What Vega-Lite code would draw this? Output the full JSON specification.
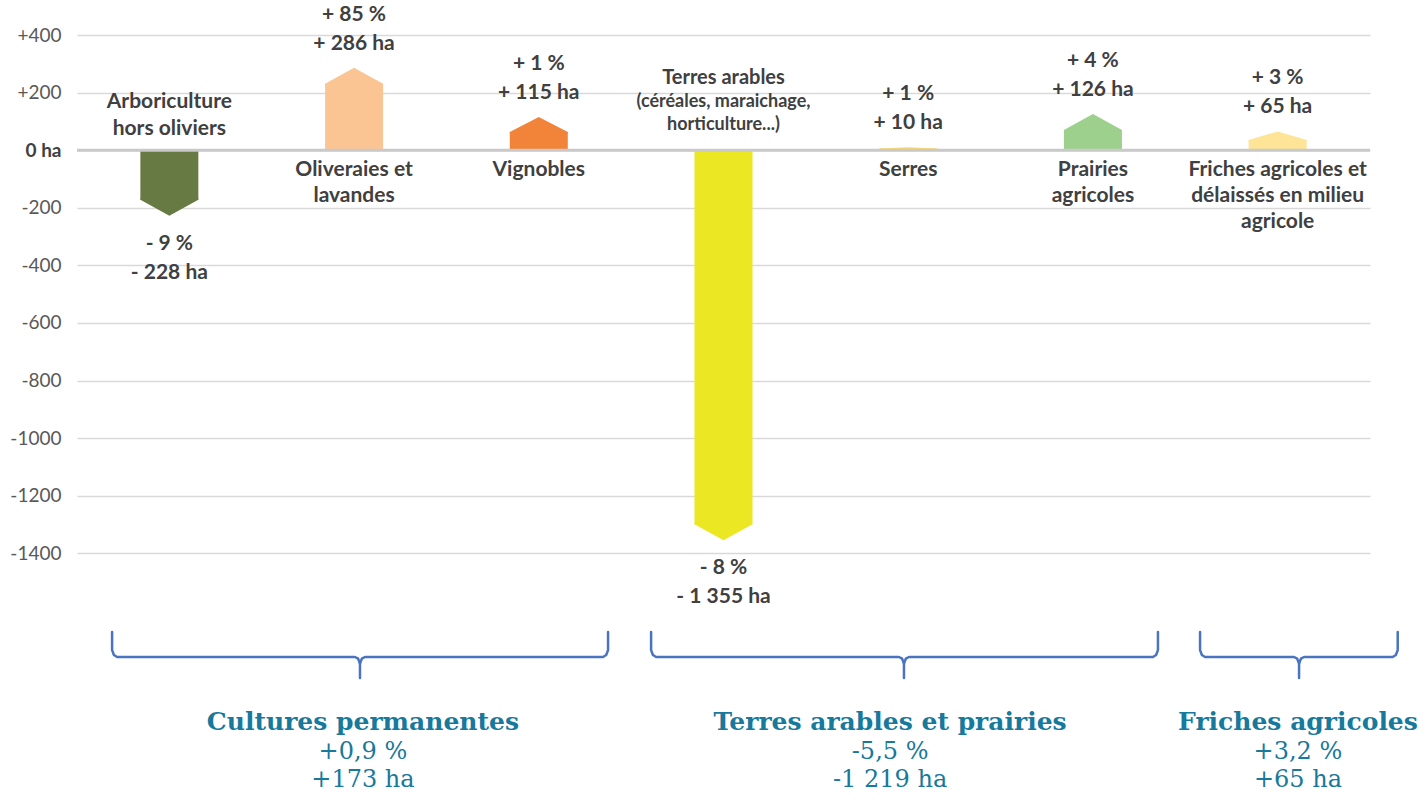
{
  "$schema": "https://vega.github.io/schema/vega-lite/v6.json",
  "width": 1293,
  "height": 770,
  "autosize": {"type": "none"},
  "padding": {"left": 77, "top": 35, "right": 58, "bottom": 0},
  "background": "white",
  "config": {"view": {"stroke": null}, "font": "Lato"},
  "datasets": {
    "cats": [
      {"cat": "Arboriculture hors oliviers", "value": -228, "label": ["Arboriculture", "hors oliviers"], "vlabel": ["- 9 %", "- 228 ha"]},
      {"cat": "Oliveraies et lavandes", "value": 286, "label": ["Oliveraies et", "lavandes"], "vlabel": ["+ 85 %", "+ 286 ha"]},
      {"cat": "Vignobles", "value": 115, "label": ["Vignobles"], "vlabel": ["+ 1 %", "+ 115 ha"]},
      {"cat": "Terres arables", "value": -1355, "label": ["Terres arables"], "sub": ["(céréales, maraichage,", "horticulture...)"], "vlabel": ["- 8 %", "- 1 355 ha"]},
      {"cat": "Serres", "value": 10, "label": ["Serres"], "vlabel": ["+ 1 %", "+ 10 ha"]},
      {"cat": "Prairies agricoles", "value": 126, "label": ["Prairies", "agricoles"], "vlabel": ["+ 4 %", "+ 126 ha"]},
      {"cat": "Friches agricoles et délaissés en milieu agricole", "value": 65, "label": ["Friches agricoles et", "délaissés en milieu", "agricole"], "vlabel": ["+ 3 %", "+ 65 ha"]}
    ],
    "braces": [
      {"seg": "A1", "o": 1, "x": 0.19, "y": -1673}, {"seg": "A1", "o": 2, "x": 0.19, "y": -1736}, {"seg": "A1", "o": 3, "x": 0.2, "y": -1753}, {"seg": "A1", "o": 4, "x": 0.217, "y": -1760}, {"seg": "A1", "o": 5, "x": 1.505, "y": -1760}, {"seg": "A1", "o": 6, "x": 1.522, "y": -1766}, {"seg": "A1", "o": 7, "x": 1.532, "y": -1783}, {"seg": "A1", "o": 8, "x": 1.532, "y": -1833},
      {"seg": "A2", "o": 1, "x": 2.875, "y": -1673}, {"seg": "A2", "o": 2, "x": 2.875, "y": -1736}, {"seg": "A2", "o": 3, "x": 2.865, "y": -1753}, {"seg": "A2", "o": 4, "x": 2.848, "y": -1760}, {"seg": "A2", "o": 5, "x": 1.559, "y": -1760}, {"seg": "A2", "o": 6, "x": 1.542, "y": -1766}, {"seg": "A2", "o": 7, "x": 1.532, "y": -1783},
      {"seg": "B1", "o": 1, "x": 3.108, "y": -1673}, {"seg": "B1", "o": 2, "x": 3.108, "y": -1736}, {"seg": "B1", "o": 3, "x": 3.118, "y": -1753}, {"seg": "B1", "o": 4, "x": 3.135, "y": -1760}, {"seg": "B1", "o": 5, "x": 4.45, "y": -1760}, {"seg": "B1", "o": 6, "x": 4.467, "y": -1766}, {"seg": "B1", "o": 7, "x": 4.477, "y": -1783}, {"seg": "B1", "o": 8, "x": 4.477, "y": -1833},
      {"seg": "B2", "o": 1, "x": 5.852, "y": -1673}, {"seg": "B2", "o": 2, "x": 5.852, "y": -1736}, {"seg": "B2", "o": 3, "x": 5.842, "y": -1753}, {"seg": "B2", "o": 4, "x": 5.825, "y": -1760}, {"seg": "B2", "o": 5, "x": 4.504, "y": -1760}, {"seg": "B2", "o": 6, "x": 4.487, "y": -1766}, {"seg": "B2", "o": 7, "x": 4.477, "y": -1783},
      {"seg": "C1", "o": 1, "x": 6.08, "y": -1673}, {"seg": "C1", "o": 2, "x": 6.08, "y": -1736}, {"seg": "C1", "o": 3, "x": 6.09, "y": -1753}, {"seg": "C1", "o": 4, "x": 6.107, "y": -1760}, {"seg": "C1", "o": 5, "x": 6.589, "y": -1760}, {"seg": "C1", "o": 6, "x": 6.606, "y": -1766}, {"seg": "C1", "o": 7, "x": 6.616, "y": -1783}, {"seg": "C1", "o": 8, "x": 6.616, "y": -1833},
      {"seg": "C2", "o": 1, "x": 7.15, "y": -1673}, {"seg": "C2", "o": 2, "x": 7.15, "y": -1736}, {"seg": "C2", "o": 3, "x": 7.14, "y": -1753}, {"seg": "C2", "o": 4, "x": 7.123, "y": -1760}, {"seg": "C2", "o": 5, "x": 6.643, "y": -1760}, {"seg": "C2", "o": 6, "x": 6.626, "y": -1766}, {"seg": "C2", "o": 7, "x": 6.616, "y": -1783}
    ],
    "groups": [
      {"x": 1.548, "title": "Cultures permanentes", "pct": "+0,9 %", "ha": "+173 ha"},
      {"x": 4.402, "title": "Terres arables et prairies", "pct": "-5,5 %", "ha": "-1 219 ha"},
      {"x": 6.61, "title": "Friches agricoles", "pct": "+3,2 %", "ha": "+65 ha"}
    ]
  },
  "layer": [
    {
      "data": {"name": "cats"},
      "encoding": {
        "x": {"field": "cat", "type": "nominal", "sort": null,
              "scale": {"domain": ["Arboriculture hors oliviers", "Oliveraies et lavandes", "Vignobles", "Terres arables", "Serres", "Prairies agricoles", "Friches agricoles et délaissés en milieu agricole"], "paddingInner": 0, "paddingOuter": 0},
              "axis": null}
      },
      "layer": [
        {
          "mark": {"type": "bar", "width": {"band": 0.314},
                   "yOffset": {"expr": "(datum.value > 0 ? 1 : -1) * min(16, 0.45 * abs(scale('y', datum.value) - scale('y', 0)))"}},
          "encoding": {
            "y": {"field": "value", "type": "quantitative",
                  "scale": {"domain": [-2274, 400], "nice": false, "zero": false},
                  "axis": {"values": [-1400, -1200, -1000, -800, -600, -400, -200, 0, 200, 400],
                           "domain": false, "ticks": false, "title": null, "labelPadding": 16,
                           "labelFontSize": 19, "labelFont": "Lato",
                           "labelColor": {"condition": {"test": "datum.value == 0", "value": "#404040"}, "value": "#595959"},
                           "labelFontWeight": {"condition": {"test": "datum.value == 0", "value": "bold"}, "value": "normal"},
                           "labelExpr": "datum.value > 0 ? '+' + datum.value : (datum.value == 0 ? '0 ha' : '' + datum.value)",
                           "gridColor": "#d9d9d9", "gridWidth": 1.3}},
            "y2": {"datum": 0},
            "color": {"field": "cat", "type": "nominal", "legend": null,
                      "scale": {"domain": ["Arboriculture hors oliviers", "Oliveraies et lavandes", "Vignobles", "Terres arables", "Serres", "Prairies agricoles", "Friches agricoles et délaissés en milieu agricole"],
                                "range": ["#687a44", "#fbc593", "#f18439", "#ebe823", "#fed766", "#9dcf8d", "#fde497"]}}
          }
        },
        {
          "mark": {"type": "point", "filled": true, "opacity": 1, "size": 3364, "strokeWidth": 0,
                   "shape": {"expr": "'M-1,' + ((datum.value > 0 ? 1 : -1) * (min(16, 0.45 * abs(scale('y', datum.value) - scale('y', 0))) / 29 + 0.05)) + 'L-1,' + ((datum.value > 0 ? 1 : -1) * (min(16, 0.45 * abs(scale('y', datum.value) - scale('y', 0))) / 29)) + 'L0,0L1,' + ((datum.value > 0 ? 1 : -1) * (min(16, 0.45 * abs(scale('y', datum.value) - scale('y', 0))) / 29)) + 'L1,' + ((datum.value > 0 ? 1 : -1) * (min(16, 0.45 * abs(scale('y', datum.value) - scale('y', 0))) / 29 + 0.05)) + 'Z'"}},
          "encoding": {
            "y": {"field": "value", "type": "quantitative",
                  "scale": {"domain": [-2274, 400], "nice": false, "zero": false},
                  "axis": {"values": [-1400, -1200, -1000, -800, -600, -400, -200, 0, 200, 400],
                           "domain": false, "ticks": false, "title": null, "labelPadding": 16,
                           "labelFontSize": 19, "labelFont": "Lato",
                           "labelColor": {"condition": {"test": "datum.value == 0", "value": "#404040"}, "value": "#595959"},
                           "labelFontWeight": {"condition": {"test": "datum.value == 0", "value": "bold"}, "value": "normal"},
                           "labelExpr": "datum.value > 0 ? '+' + datum.value : (datum.value == 0 ? '0 ha' : '' + datum.value)",
                           "gridColor": "#d9d9d9", "gridWidth": 1.3}},
            "color": {"field": "cat", "type": "nominal", "legend": null,
                      "scale": {"domain": ["Arboriculture hors oliviers", "Oliveraies et lavandes", "Vignobles", "Terres arables", "Serres", "Prairies agricoles", "Friches agricoles et délaissés en milieu agricole"],
                                "range": ["#687a44", "#fbc593", "#f18439", "#ebe823", "#fed766", "#9dcf8d", "#fde497"]}}
          }
        }
      ]
    },
    {
      "data": {"values": [{"zero": 0}]},
      "mark": {"type": "rule", "color": "#c9c9c9", "strokeWidth": 3},
      "encoding": {
        "y": {"field": "zero", "type": "quantitative",
              "scale": {"domain": [-2274, 400], "nice": false, "zero": false},
              "axis": {"values": [-1400, -1200, -1000, -800, -600, -400, -200, 0, 200, 400],
                       "domain": false, "ticks": false, "title": null, "labelPadding": 16,
                       "labelFontSize": 19, "labelFont": "Lato",
                       "labelColor": {"condition": {"test": "datum.value == 0", "value": "#404040"}, "value": "#595959"},
                       "labelFontWeight": {"condition": {"test": "datum.value == 0", "value": "bold"}, "value": "normal"},
                       "labelExpr": "datum.value > 0 ? '+' + datum.value : (datum.value == 0 ? '0 ha' : '' + datum.value)",
                       "gridColor": "#d9d9d9", "gridWidth": 1.3}}
      }
    },
    {
      "data": {"name": "cats"},
      "encoding": {
        "x": {"field": "cat", "type": "nominal", "sort": null,
              "scale": {"domain": ["Arboriculture hors oliviers", "Oliveraies et lavandes", "Vignobles", "Terres arables", "Serres", "Prairies agricoles", "Friches agricoles et délaissés en milieu agricole"], "paddingInner": 0, "paddingOuter": 0},
              "axis": null}
      },
      "layer": [
        {
          "transform": [{"filter": "datum.value > 0"}],
          "mark": {"type": "text", "baseline": "top", "dy": 9, "lineHeight": 26, "fontSize": 21, "fontWeight": "bold", "color": "#404040", "font": "Lato"},
          "encoding": {
            "y": {"datum": 0, "type": "quantitative",
                  "scale": {"domain": [-2274, 400], "nice": false, "zero": false},
                  "axis": {"values": [-1400, -1200, -1000, -800, -600, -400, -200, 0, 200, 400],
                           "domain": false, "ticks": false, "title": null, "labelPadding": 16,
                           "labelFontSize": 19, "labelFont": "Lato",
                           "labelColor": {"condition": {"test": "datum.value == 0", "value": "#404040"}, "value": "#595959"},
                           "labelFontWeight": {"condition": {"test": "datum.value == 0", "value": "bold"}, "value": "normal"},
                           "labelExpr": "datum.value > 0 ? '+' + datum.value : (datum.value == 0 ? '0 ha' : '' + datum.value)",
                           "gridColor": "#d9d9d9", "gridWidth": 1.3}},
            "text": {"field": "label", "type": "nominal"}
          }
        },
        {
          "transform": [{"filter": "datum.value < 0 && !datum.sub"}],
          "mark": {"type": "text", "baseline": "bottom", "dy": -38, "lineHeight": 27, "fontSize": 21, "fontWeight": "bold", "color": "#404040", "font": "Lato"},
          "encoding": {
            "y": {"datum": 0, "type": "quantitative",
                  "scale": {"domain": [-2274, 400], "nice": false, "zero": false},
                  "axis": {"values": [-1400, -1200, -1000, -800, -600, -400, -200, 0, 200, 400],
                           "domain": false, "ticks": false, "title": null, "labelPadding": 16,
                           "labelFontSize": 19, "labelFont": "Lato",
                           "labelColor": {"condition": {"test": "datum.value == 0", "value": "#404040"}, "value": "#595959"},
                           "labelFontWeight": {"condition": {"test": "datum.value == 0", "value": "bold"}, "value": "normal"},
                           "labelExpr": "datum.value > 0 ? '+' + datum.value : (datum.value == 0 ? '0 ha' : '' + datum.value)",
                           "gridColor": "#d9d9d9", "gridWidth": 1.3}},
            "text": {"field": "label", "type": "nominal"}
          }
        },
        {
          "transform": [{"filter": "datum.sub"}],
          "mark": {"type": "text", "baseline": "bottom", "dy": -62, "fontSize": 20, "fontWeight": "bold", "color": "#404040", "font": "Lato"},
          "encoding": {
            "y": {"datum": 0, "type": "quantitative",
                  "scale": {"domain": [-2274, 400], "nice": false, "zero": false},
                  "axis": {"values": [-1400, -1200, -1000, -800, -600, -400, -200, 0, 200, 400],
                           "domain": false, "ticks": false, "title": null, "labelPadding": 16,
                           "labelFontSize": 19, "labelFont": "Lato",
                           "labelColor": {"condition": {"test": "datum.value == 0", "value": "#404040"}, "value": "#595959"},
                           "labelFontWeight": {"condition": {"test": "datum.value == 0", "value": "bold"}, "value": "normal"},
                           "labelExpr": "datum.value > 0 ? '+' + datum.value : (datum.value == 0 ? '0 ha' : '' + datum.value)",
                           "gridColor": "#d9d9d9", "gridWidth": 1.3}},
            "text": {"field": "label", "type": "nominal"}
          }
        },
        {
          "transform": [{"filter": "datum.sub"}],
          "mark": {"type": "text", "baseline": "bottom", "dy": -39, "lineHeight": 23, "fontSize": 18, "fontWeight": "bold", "color": "#404040", "font": "Lato"},
          "encoding": {
            "y": {"datum": 0, "type": "quantitative",
                  "scale": {"domain": [-2274, 400], "nice": false, "zero": false},
                  "axis": {"values": [-1400, -1200, -1000, -800, -600, -400, -200, 0, 200, 400],
                           "domain": false, "ticks": false, "title": null, "labelPadding": 16,
                           "labelFontSize": 19, "labelFont": "Lato",
                           "labelColor": {"condition": {"test": "datum.value == 0", "value": "#404040"}, "value": "#595959"},
                           "labelFontWeight": {"condition": {"test": "datum.value == 0", "value": "bold"}, "value": "normal"},
                           "labelExpr": "datum.value > 0 ? '+' + datum.value : (datum.value == 0 ? '0 ha' : '' + datum.value)",
                           "gridColor": "#d9d9d9", "gridWidth": 1.3}},
            "text": {"field": "sub", "type": "nominal"}
          }
        },
        {
          "transform": [{"filter": "datum.value > 0"}],
          "mark": {"type": "text", "baseline": "bottom", "dy": -43, "lineHeight": 29, "fontSize": 21, "fontWeight": "bold", "color": "#404040", "font": "Lato"},
          "encoding": {
            "y": {"field": "value", "type": "quantitative",
                  "scale": {"domain": [-2274, 400], "nice": false, "zero": false},
                  "axis": {"values": [-1400, -1200, -1000, -800, -600, -400, -200, 0, 200, 400],
                           "domain": false, "ticks": false, "title": null, "labelPadding": 16,
                           "labelFontSize": 19, "labelFont": "Lato",
                           "labelColor": {"condition": {"test": "datum.value == 0", "value": "#404040"}, "value": "#595959"},
                           "labelFontWeight": {"condition": {"test": "datum.value == 0", "value": "bold"}, "value": "normal"},
                           "labelExpr": "datum.value > 0 ? '+' + datum.value : (datum.value == 0 ? '0 ha' : '' + datum.value)",
                           "gridColor": "#d9d9d9", "gridWidth": 1.3}},
            "text": {"field": "vlabel", "type": "nominal"}
          }
        },
        {
          "transform": [{"filter": "datum.value < 0"}],
          "mark": {"type": "text", "baseline": "top", "dy": 17, "lineHeight": 29, "fontSize": 21, "fontWeight": "bold", "color": "#404040", "font": "Lato"},
          "encoding": {
            "y": {"field": "value", "type": "quantitative",
                  "scale": {"domain": [-2274, 400], "nice": false, "zero": false},
                  "axis": {"values": [-1400, -1200, -1000, -800, -600, -400, -200, 0, 200, 400],
                           "domain": false, "ticks": false, "title": null, "labelPadding": 16,
                           "labelFontSize": 19, "labelFont": "Lato",
                           "labelColor": {"condition": {"test": "datum.value == 0", "value": "#404040"}, "value": "#595959"},
                           "labelFontWeight": {"condition": {"test": "datum.value == 0", "value": "bold"}, "value": "normal"},
                           "labelExpr": "datum.value > 0 ? '+' + datum.value : (datum.value == 0 ? '0 ha' : '' + datum.value)",
                           "gridColor": "#d9d9d9", "gridWidth": 1.3}},
            "text": {"field": "vlabel", "type": "nominal"}
          }
        }
      ]
    },
    {
      "encoding": {
        "x": {"field": "x", "type": "quantitative", "scale": {"domain": [0, 7], "nice": false, "zero": false}, "axis": null}
      },
      "layer": [
        {
          "data": {"name": "braces"},
          "mark": {"type": "line", "color": "#4a74bf", "strokeWidth": 2.5, "strokeJoin": "round", "strokeCap": "round"},
          "encoding": {
            "y": {"field": "y", "type": "quantitative",
                  "scale": {"domain": [-2274, 400], "nice": false, "zero": false},
                  "axis": {"values": [-1400, -1200, -1000, -800, -600, -400, -200, 0, 200, 400],
                           "domain": false, "ticks": false, "title": null, "labelPadding": 16,
                           "labelFontSize": 19, "labelFont": "Lato",
                           "labelColor": {"condition": {"test": "datum.value == 0", "value": "#404040"}, "value": "#595959"},
                           "labelFontWeight": {"condition": {"test": "datum.value == 0", "value": "bold"}, "value": "normal"},
                           "labelExpr": "datum.value > 0 ? '+' + datum.value : (datum.value == 0 ? '0 ha' : '' + datum.value)",
                           "gridColor": "#d9d9d9", "gridWidth": 1.3}},
            "detail": {"field": "seg", "type": "nominal"},
            "order": {"field": "o", "type": "quantitative"}
          }
        },
        {
          "data": {"name": "groups"},
          "mark": {"type": "text", "baseline": "middle", "font": "DejaVu Serif", "fontWeight": "bold", "fontSize": 25, "color": "#17799b"},
          "encoding": {
            "y": {"datum": -1986, "type": "quantitative",
                  "scale": {"domain": [-2274, 400], "nice": false, "zero": false},
                  "axis": {"values": [-1400, -1200, -1000, -800, -600, -400, -200, 0, 200, 400],
                           "domain": false, "ticks": false, "title": null, "labelPadding": 16,
                           "labelFontSize": 19, "labelFont": "Lato",
                           "labelColor": {"condition": {"test": "datum.value == 0", "value": "#404040"}, "value": "#595959"},
                           "labelFontWeight": {"condition": {"test": "datum.value == 0", "value": "bold"}, "value": "normal"},
                           "labelExpr": "datum.value > 0 ? '+' + datum.value : (datum.value == 0 ? '0 ha' : '' + datum.value)",
                           "gridColor": "#d9d9d9", "gridWidth": 1.3}},
            "text": {"field": "title", "type": "nominal"}
          }
        },
        {
          "data": {"name": "groups"},
          "mark": {"type": "text", "baseline": "middle", "font": "DejaVu Serif", "fontSize": 24, "color": "#17799b"},
          "encoding": {
            "y": {"datum": -2090, "type": "quantitative",
                  "scale": {"domain": [-2274, 400], "nice": false, "zero": false},
                  "axis": {"values": [-1400, -1200, -1000, -800, -600, -400, -200, 0, 200, 400],
                           "domain": false, "ticks": false, "title": null, "labelPadding": 16,
                           "labelFontSize": 19, "labelFont": "Lato",
                           "labelColor": {"condition": {"test": "datum.value == 0", "value": "#404040"}, "value": "#595959"},
                           "labelFontWeight": {"condition": {"test": "datum.value == 0", "value": "bold"}, "value": "normal"},
                           "labelExpr": "datum.value > 0 ? '+' + datum.value : (datum.value == 0 ? '0 ha' : '' + datum.value)",
                           "gridColor": "#d9d9d9", "gridWidth": 1.3}},
            "text": {"field": "pct", "type": "nominal"}
          }
        },
        {
          "data": {"name": "groups"},
          "mark": {"type": "text", "baseline": "middle", "font": "DejaVu Serif", "fontSize": 24, "color": "#17799b"},
          "encoding": {
            "y": {"datum": -2187, "type": "quantitative",
                  "scale": {"domain": [-2274, 400], "nice": false, "zero": false},
                  "axis": {"values": [-1400, -1200, -1000, -800, -600, -400, -200, 0, 200, 400],
                           "domain": false, "ticks": false, "title": null, "labelPadding": 16,
                           "labelFontSize": 19, "labelFont": "Lato",
                           "labelColor": {"condition": {"test": "datum.value == 0", "value": "#404040"}, "value": "#595959"},
                           "labelFontWeight": {"condition": {"test": "datum.value == 0", "value": "bold"}, "value": "normal"},
                           "labelExpr": "datum.value > 0 ? '+' + datum.value : (datum.value == 0 ? '0 ha' : '' + datum.value)",
                           "gridColor": "#d9d9d9", "gridWidth": 1.3}},
            "text": {"field": "ha", "type": "nominal"}
          }
        }
      ]
    }
  ],
  "resolve": {"scale": {"x": "independent"}}
}
